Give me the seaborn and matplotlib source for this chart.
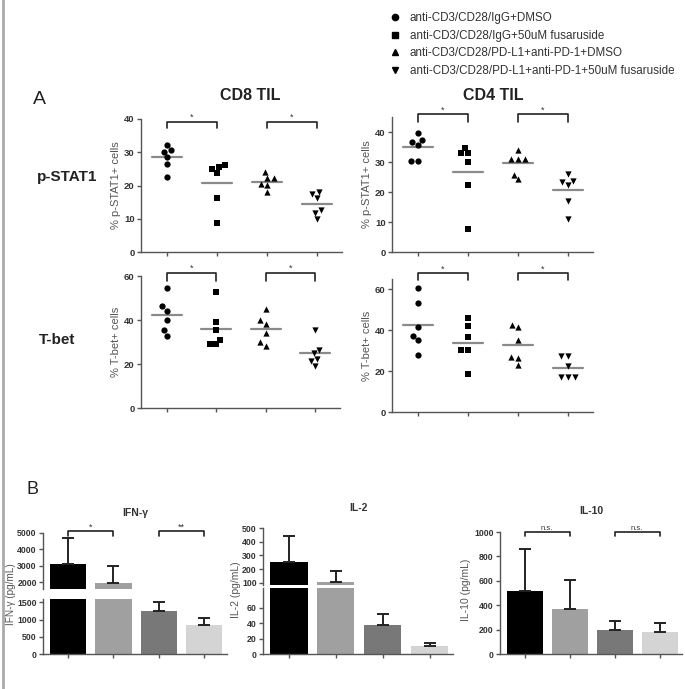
import numpy as np
import matplotlib
matplotlib.use("Agg")
import matplotlib.pyplot as plt
import seaborn as sns
import pandas as pd
from matplotlib.lines import Line2D

sns.set_style("ticks")
plt.rcParams['font.family'] = ['Liberation Sans', 'DejaVu Sans']

groups = ["anti-CD3/CD28/IgG+DMSO",
          "anti-CD3/CD28/IgG+50uM fusaruside",
          "anti-CD3/CD28/PD-L1+anti-PD-1+DMSO",
          "anti-CD3/CD28/PD-L1+anti-PD-1+50uM fusaruside"]
markers = ["o", "s", "^", "v"]

# % positive cells, 6 mice per group
cd8_pstat1 = [[32.2, 30.2, 30.7, 28.5, 26.4, 22.7],
              [25.5, 26.3, 24.9, 23.7, 16.3, 8.7],
              [22.2, 24.0, 22.2, 20.6, 20.2, 18.0],
              [18.0, 17.5, 16.2, 12.5, 11.8, 10.0]]
cd4_pstat1 = [[39.7, 36.7, 37.5, 35.8, 30.5, 30.5],
              [33.0, 33.0, 34.8, 29.9, 22.2, 7.8],
              [34.0, 31.1, 30.9, 31.1, 24.2, 25.8],
              [26.0, 23.7, 23.3, 22.4, 17.0, 10.9]]
cd8_tbet = [[54.7, 46.2, 44.3, 39.8, 35.3, 32.7],
            [52.9, 38.9, 35.3, 31.1, 28.9, 29.3],
            [45.0, 38.4, 39.9, 34.1, 28.4, 29.9],
            [35.3, 26.3, 24.8, 22.4, 21.3, 19.1]]
cd4_tbet = [[60.8, 53.2, 41.5, 37.2, 35.3, 27.8],
            [45.7, 42.1, 36.6, 30.4, 30.1, 18.4],
            [42.4, 41.5, 35.0, 26.5, 26.8, 22.9],
            [27.2, 27.2, 22.6, 17.1, 17.1, 17.1]]

# cytokines, mean and SD (pg/mL)
ifng_mean = [3100, 1950, 1250, 830]
ifng_sd = [1600, 1050, 250, 220]
il2_mean = [255, 105, 38, 11]
il2_sd = [190, 80, 14, 3]
il10_mean = [520, 365, 200, 180]
il10_sd = [340, 245, 70, 75]

bar_colors = ["#000000", "#a0a0a0", "#787878", "#d4d4d4"]
W, H = 685, 689
txt = "#333333"


def px_axes(fig, x0, x1, y0, y1):
    return fig.add_axes([x0 / W, 1 - y1 / H, (x1 - x0) / W, (y1 - y0) / H])


def style(ax, fs=6.8):
    sns.despine(ax=ax)
    for s in ["left", "bottom"]:
        ax.spines[s].set_color("#555555")
        ax.spines[s].set_linewidth(1.0)
    ax.tick_params(axis="both", length=3, width=1, color="#555555",
                   labelsize=fs, labelcolor=txt, pad=1.5)
    for t in ax.get_yticklabels():
        t.set_fontweight("bold")


def bracket(ax, a, b, y, h, label, fs=7):
    ax.plot([a, a, b, b], [y - h, y, y, y - h], color="#222222", lw=1.2,
            clip_on=False)
    ax.text((a + b) / 2, y, label, ha="center", va="bottom", fontsize=fs,
            color=txt, clip_on=False)


fig = plt.figure(figsize=(6.85, 6.89), dpi=100)

dot_panels = [
    (cd8_pstat1, (141, 342, 119, 252), 40, [0, 10, 20, 30, 40], 39.2, 2.0),
    (cd4_pstat1, (392, 593, 117, 252), 45, [0, 10, 20, 30, 40], 45.9, 2.5),
    (cd8_tbet, (141, 340, 276, 408), 60, [0, 20, 40, 60], 61.4, 3.5),
    (cd4_tbet, (392, 593, 279, 412), 65, [0, 20, 40, 60], 67.8, 3.4),
]
ylabels = ["% p-STAT1+ cells", "% p-STAT1+ cells", "% T-bet+ cells", "% T-bet+ cells"]

for k, (vals, box, ytop, yt, by, bh) in enumerate(dot_panels):
    ax = px_axes(fig, *box)
    for i, v in enumerate(vals):
        sns.swarmplot(x=[groups[i]] * len(v), y=v, order=groups, marker=markers[i],
                      color="black", size=4.5, ax=ax, linewidth=0)
        m = np.mean(v)
        ax.plot([i - 0.3, i + 0.3], [m, m], color="#8a8a8a", lw=1.6, zorder=1)
    ax.set_xlim(-0.52, 3.5)
    ax.set_ylim(0, ytop)
    ax.set_yticks(yt)
    ax.set_xticklabels([])
    ax.set_xlabel("")
    ax.set_ylabel(ylabels[k], fontsize=8, color="#555555", labelpad=2)
    style(ax)
    bracket(ax, 0, 1, by, bh, "*", fs=6.5)
    bracket(ax, 2, 3, by, bh, "*", fs=6.5)

# cytokine bars
def bars(ax, mean, sd):
    sns.barplot(x=groups, y=mean, hue=groups, palette=bar_colors, legend=False,
                order=groups, width=0.8, errorbar=None, ax=ax, edgecolor="none")
    ax.errorbar(range(4), mean, yerr=[np.zeros(4), sd], fmt="none",
                ecolor="#222222", elinewidth=1.4, capsize=4, capthick=1.4)
    ax.set_xlim(-0.55, 3.5)
    ax.set_xticklabels([])
    ax.set_xlabel("")


# IFN-gamma (broken axis)
ifn_hi = px_axes(fig, 43, 227, 533, 589)
ifn_lo = px_axes(fig, 43, 227, 599, 654)
for ax in (ifn_hi, ifn_lo):
    bars(ax, ifng_mean, ifng_sd)
    style(ax, 6.3)
ifn_hi.set_ylim(1600, 5000)
ifn_hi.set_yticks([2000, 3000, 4000, 5000])
ifn_lo.set_ylim(0, 1600)
ifn_lo.set_yticks([0, 500, 1000, 1500])
ifn_hi.spines["bottom"].set_visible(False)
ifn_hi.tick_params(axis="x", bottom=False)
for t in ifn_hi.get_yticklabels() + ifn_lo.get_yticklabels():
    t.set_fontweight("bold")
ifn_hi.set_title("IFN-γ", fontsize=7.5, fontweight="bold", color=txt, pad=12)
bracket(ifn_hi, 0, 1, 5100, 300, "*", fs=6.5)
bracket(ifn_hi, 2, 3, 5100, 300, "**", fs=6.5)
fig.text(11 / W, 1 - 594 / H, "IFN-γ (pg/mL)", rotation=90, ha="center",
         va="center", fontsize=7.2, color="#555555")

# IL-2 (broken axis)
il2_hi = px_axes(fig, 263, 453, 528, 585)
il2_lo = px_axes(fig, 263, 453, 588, 654)
for ax in (il2_hi, il2_lo):
    bars(ax, il2_mean, il2_sd)
    style(ax, 6.3)
il2_hi.set_ylim(85, 500)
il2_hi.set_yticks([100, 200, 300, 400, 500])
il2_lo.set_ylim(0, 86)
il2_lo.set_yticks([0, 20, 40, 60])
il2_hi.spines["bottom"].set_visible(False)
il2_hi.tick_params(axis="x", bottom=False)
for t in il2_hi.get_yticklabels() + il2_lo.get_yticklabels():
    t.set_fontweight("bold")
il2_hi.set_title("IL-2", fontsize=7.5, fontweight="bold", color=txt, pad=12)
fig.text(236 / W, 1 - 590 / H, "IL-2 (pg/mL)", rotation=90, ha="center",
         va="center", fontsize=7.5, color="#555555")

# IL-10
il10 = px_axes(fig, 500, 682, 532, 654)
bars(il10, il10_mean, il10_sd)
il10.set_ylim(0, 1000)
il10.set_yticks([0, 200, 400, 600, 800, 1000])
style(il10, 6.3)
il10.set_title("IL-10", fontsize=7.5, fontweight="bold", color=txt, pad=13)
bracket(il10, 0, 1, 1000, 35, "n.s.", fs=5.5)
bracket(il10, 2, 3, 1000, 35, "n.s.", fs=5.5)
fig.text(466 / W, 1 - 590 / H, "IL-10 (pg/mL)", rotation=90, ha="center",
         va="center", fontsize=7.5, color="#555555")

# legend
handles = [Line2D([], [], marker=m, ls="", color="black", markersize=4.5) for m in markers]
fig.legend(handles, groups, loc="upper left", bbox_to_anchor=(383 / W, 1 - 6 / H),
           frameon=False, fontsize=8.4, labelspacing=0.5, handlelength=1,
           handletextpad=0.8, borderpad=0, labelcolor=txt)

# panel labels and headings
fig.text(33 / W, 1 - 100 / H, "A", fontsize=14, va="center", color="#222222")
fig.text(27 / W, 1 - 489 / H, "B", fontsize=13, va="center", color="#222222")
fig.text(250 / W, 1 - 95 / H, "CD8 TIL", fontsize=11.5, fontweight="bold",
         ha="center", va="center", color="#222222")
fig.text(493 / W, 1 - 95 / H, "CD4 TIL", fontsize=11.5, fontweight="bold",
         ha="center", va="center", color="#222222")
fig.text(37 / W, 1 - 177 / H, "p-STAT1", fontsize=11, fontweight="bold",
         va="center", color="#222222")
fig.text(39 / W, 1 - 340 / H, "T-bet", fontsize=11, fontweight="bold",
         va="center", color="#222222")

fig.add_artist(Line2D([0.004, 0.004], [0, 1], color="#aaaaaa", lw=2,
                      transform=fig.transFigure))

fig.savefig("out.png", dpi=100)
